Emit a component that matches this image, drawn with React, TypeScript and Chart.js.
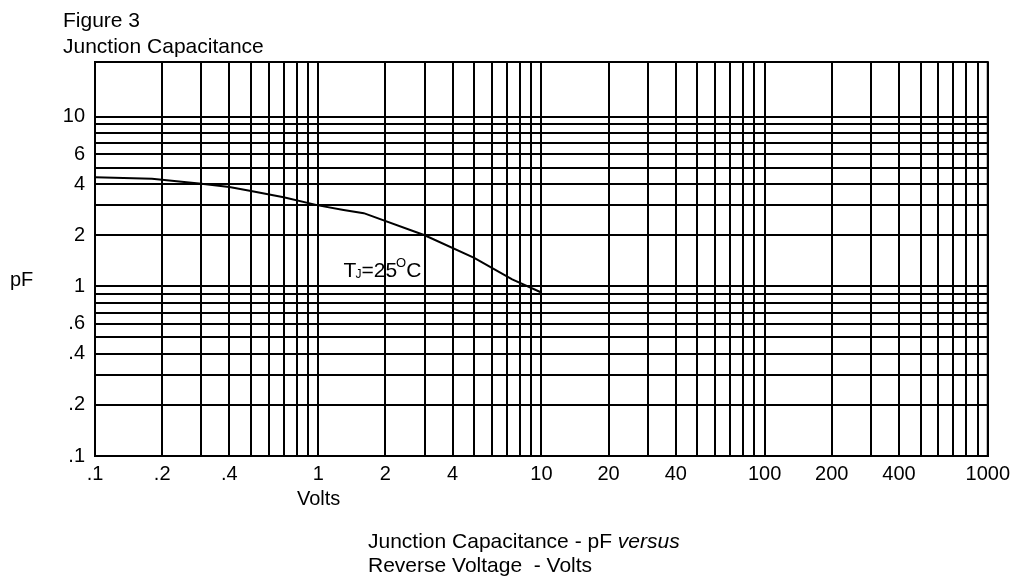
import React, { useEffect, useRef } from 'react';
import { Chart, registerables } from 'chart.js';

Chart.register(...registerables);

// ---- data ----
const voltage = [0.1, 0.18, 0.3, 0.4, 0.5, 0.7, 1.0, 1.3, 1.6, 3, 5, 7.4, 10];
const capacitance = [4.4, 4.3, 4.02, 3.85, 3.65, 3.35, 3.0, 2.82, 2.7, 2.0, 1.47, 1.1, 0.92];

// grid lines (every log-cycle division)
const xGridValues = [
  0.1, 0.2, 0.3, 0.4, 0.5, 0.6, 0.7, 0.8, 0.9,
  1, 2, 3, 4, 5, 6, 7, 8, 9,
  10, 20, 30, 40, 50, 60, 70, 80, 90,
  100, 200, 300, 400, 500, 600, 700, 800, 900,
  1000,
];
const yGridValues = [
  0.1, 0.2, 0.3, 0.4, 0.5, 0.6, 0.7, 0.8, 0.9,
  1, 2, 3, 4, 5, 6, 7, 8, 9,
  10,
];

// labelled ticks
const xLabelValues = [0.1, 0.2, 0.4, 1, 2, 4, 10, 20, 40, 100, 200, 400, 1000];
const xLabelTexts = ['.1', '.2', '.4', '1', '2', '4', '10', '20', '40', '100', '200', '400', '1000'];
const yLabelValues = [0.1, 0.2, 0.4, 0.6, 1, 2, 4, 6, 10];
const yLabelTexts = ['.1', '.2', '.4', '.6', '1', '2', '4', '6', '10'];

const xMin = 0.1;
const xMax = 1000;
const yMin = 0.1;
const yMax = 21;

// annotation anchor in data coordinates
const noteVoltage = 1.3;
const noteCapacitance = 1.13;

const FONT = '"Liberation Sans", Arial, Helvetica, sans-serif';

function labelFor(values: number[], texts: string[], v: number): string {
  const i = values.findIndex((t) => Math.abs(t - v) / t < 1e-6);
  return i >= 0 ? texts[i] : '';
}

const textPlugin = {
  id: 'textPlugin',
  afterDatasetsDraw(chart: any) {
    const { ctx, chartArea, scales } = chart;
    ctx.save();
    // frame
    ctx.strokeStyle = '#000';
    ctx.lineWidth = 2;
    ctx.strokeRect(chartArea.left, chartArea.top, chartArea.right - chartArea.left, chartArea.bottom - chartArea.top);

    ctx.fillStyle = '#000';
    ctx.textBaseline = 'alphabetic';
    ctx.textAlign = 'left';
    ctx.font = `21px ${FONT}`;
    ctx.fillText('Figure 3', 63, 27);
    ctx.fillText('Junction Capacitance', 63, 53);
    ctx.font = `20px ${FONT}`;
    ctx.fillText('pF', 10, 286);
    ctx.fillText('Volts', 297, 505);

    // caption
    ctx.font = `21px ${FONT}`;
    const cap1 = 'Junction Capacitance - pF ';
    ctx.fillText(cap1, 368, 548);
    const w1 = ctx.measureText(cap1).width;
    ctx.font = `italic 21px ${FONT}`;
    ctx.fillText('versus', 368 + w1, 548);
    ctx.font = `21px ${FONT}`;
    ctx.fillText('Reverse Voltage  - Volts', 368, 572);

    // annotation T_J = 25 °C
    let x = scales.x.getPixelForValue(noteVoltage);
    const y = scales.y.getPixelForValue(noteCapacitance);
    ctx.font = `21px ${FONT}`;
    ctx.fillText('T', x, y);
    x += ctx.measureText('T').width - 1;
    ctx.font = `12px ${FONT}`;
    ctx.fillText('J', x, y + 1);
    x += ctx.measureText('J').width;
    ctx.font = `21px ${FONT}`;
    ctx.fillText('=25', x, y);
    x += ctx.measureText('=25').width - 1;
    ctx.font = `13px ${FONT}`;
    ctx.fillText('O', x, y - 10);
    x += ctx.measureText('O').width;
    ctx.font = `21px ${FONT}`;
    ctx.fillText('C', x, y);
    ctx.restore();
  },
};

export default function App() {
  const ref = useRef<HTMLCanvasElement>(null);

  useEffect(() => {
    document.body.style.margin = '0';
    Chart.defaults.font.family = FONT;
    Chart.defaults.color = '#000';
    const chart = new Chart(ref.current as HTMLCanvasElement, {
      type: 'line',
      data: {
        datasets: [
          {
            label: 'Capacitance',
            data: voltage.map((v, i) => ({ x: v, y: capacitance[i] })),
            borderColor: '#000',
            borderWidth: 2,
            pointRadius: 0,
            tension: 0,
            fill: false,
          },
        ],
      },
      options: {
        responsive: false,
        animation: false,
        events: [],
        layout: { padding: { left: 0, right: 26, top: 62, bottom: 0 } },
        plugins: {
          legend: { display: false },
          title: { display: false },
          tooltip: { enabled: false },
        },
        scales: {
          x: {
            type: 'logarithmic',
            min: xMin,
            max: xMax,
            afterBuildTicks: (scale: any) => {
              scale.ticks = xGridValues.map((v) => ({ value: v }));
            },
            afterFit: (scale: any) => {
              scale.height = 125;
            },
            grid: { color: '#000', lineWidth: 2, drawTicks: false },
            border: { display: true, color: '#000', width: 2 },
            ticks: {
              autoSkip: false,
              maxRotation: 0,
              minRotation: 0,
              padding: 6,
              font: { size: 20, family: FONT },
              color: '#000',
              callback: (v: any) => labelFor(xLabelValues, xLabelTexts, Number(v)),
            },
          },
          y: {
            type: 'logarithmic',
            min: yMin,
            max: yMax,
            afterBuildTicks: (scale: any) => {
              scale.ticks = yGridValues.map((v) => ({ value: v }));
            },
            afterFit: (scale: any) => {
              scale.width = 95;
            },
            grid: { color: '#000', lineWidth: 2, drawTicks: false },
            border: { display: true, color: '#000', width: 2 },
            ticks: {
              autoSkip: false,
              padding: 10,
              font: { size: 20, family: FONT },
              color: '#000',
              callback: (v: any) => labelFor(yLabelValues, yLabelTexts, Number(v)),
            },
          },
        },
      },
      plugins: [textPlugin],
    });
    return () => chart.destroy();
  }, []);

  return (
    <div style={{ width: 1016, height: 581, background: '#fff' }}>
      <canvas ref={ref} width={1016} height={581} style={{ display: 'block', width: 1016, height: 581 }} />
    </div>
  );
}
